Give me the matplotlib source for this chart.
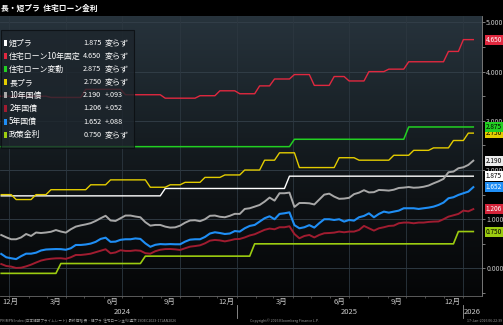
import numpy as np
import pandas as pd
import matplotlib
matplotlib.use('Agg')
import matplotlib.pyplot as plt
import matplotlib.transforms as mtransforms
from matplotlib.colors import LinearSegmentedColormap
from matplotlib.patches import Rectangle

plt.rcParams['font.family'] = ['Noto Sans CJK JP', 'DejaVu Sans']

# weekly-ish sampling grid for the JGB yields
grid = pd.date_range('2023-12-19', periods=96, freq='8D')

jgb10 = [0.68, 0.633, 0.593, 0.593, 0.63, 0.70, 0.66, 0.73, 0.72, 0.73,
         0.745, 0.78, 0.75, 0.728, 0.796, 0.85, 0.875, 0.895, 0.92, 0.965,
         1.02, 1.07, 0.975, 0.965, 1.02, 1.075, 1.075, 1.055, 1.04, 0.94,
         0.87, 0.884, 0.884, 0.85, 0.83, 0.835, 0.87, 0.93, 0.975, 0.98,
         0.96, 1.0, 1.07, 1.075, 1.05, 1.04, 1.07, 1.11, 1.108, 1.209,
         1.223, 1.256, 1.29, 1.358, 1.44, 1.378, 1.528, 1.528, 1.541, 1.25,
         1.33, 1.33, 1.324, 1.30, 1.40, 1.50, 1.52, 1.46, 1.415, 1.42,
         1.435, 1.51, 1.54, 1.59, 1.545, 1.55, 1.595, 1.59, 1.582, 1.60,
         1.635, 1.643, 1.655, 1.64, 1.645, 1.66, 1.685, 1.73, 1.77, 1.82,
         1.955, 1.968, 2.036, 2.056, 2.104, 2.19]
jgb5 = [0.295, 0.227, 0.207, 0.19, 0.25, 0.30, 0.30, 0.32, 0.365, 0.385,
        0.39, 0.394, 0.392, 0.38, 0.41, 0.477, 0.477, 0.487, 0.505, 0.54,
        0.60, 0.625, 0.54, 0.545, 0.582, 0.593, 0.593, 0.61, 0.60, 0.51,
        0.44, 0.48, 0.495, 0.49, 0.495, 0.491, 0.491, 0.545, 0.585, 0.593,
        0.593, 0.64, 0.71, 0.735, 0.72, 0.70, 0.71, 0.76, 0.749, 0.816,
        0.864, 0.884, 0.952, 1.02, 1.06, 1.0, 1.108, 1.121, 1.14, 0.88,
        0.816, 0.837, 0.88, 0.83, 0.92, 1.0, 1.0, 0.985, 1.0, 0.952,
        0.985, 0.972, 1.04, 1.067, 1.12, 1.04, 1.108, 1.155, 1.134, 1.155,
        1.175, 1.223, 1.223, 1.223, 1.209, 1.223, 1.236, 1.256, 1.29, 1.338,
        1.426, 1.447, 1.494, 1.528, 1.561, 1.652]
jgb2 = [0.09, 0.05, 0.037, 0.01, 0.015, 0.042, 0.077, 0.12, 0.16, 0.183,
        0.197, 0.205, 0.207, 0.195, 0.227, 0.274, 0.274, 0.285, 0.30, 0.33,
        0.36, 0.39, 0.308, 0.325, 0.37, 0.356, 0.356, 0.368, 0.36, 0.31,
        0.30, 0.35, 0.38, 0.393, 0.395, 0.388, 0.376, 0.41, 0.443, 0.455,
        0.47, 0.51, 0.565, 0.579, 0.57, 0.55, 0.57, 0.595, 0.60, 0.63,
        0.67, 0.695, 0.74, 0.785, 0.81, 0.796, 0.837, 0.837, 0.857, 0.70,
        0.613, 0.66, 0.68, 0.63, 0.681, 0.715, 0.72, 0.728, 0.749, 0.735,
        0.749, 0.749, 0.782, 0.864, 0.816, 0.769, 0.816, 0.837, 0.864, 0.87,
        0.918, 0.932, 0.932, 0.918, 0.932, 0.932, 0.945, 0.952, 0.955, 1.0,
        1.053, 1.08, 1.108, 1.175, 1.16, 1.206]

# step-type rates: change dates and new levels
short_dates = ['2023-12-01', '2024-09-05', '2025-03-20']
short_vals = [1.475, 1.625, 1.875]
fixed10_dates = ['2023-12-01', '2024-03-01', '2024-05-01', '2024-07-01', '2024-09-01',
                 '2024-11-01', '2024-12-01', '2025-01-01', '2025-02-01', '2025-03-01',
                 '2025-04-01', '2025-05-01', '2025-06-01', '2025-07-01', '2025-08-01',
                 '2025-09-01', '2025-10-01', '2025-12-01', '2026-01-01']
fixed10_vals = [3.50, 3.475, 3.64, 3.53, 3.46, 3.51, 3.61, 3.55, 3.71, 3.85,
                3.94, 3.72, 3.90, 3.81, 4.00, 4.05, 4.20, 4.41, 4.65]
var_dates = ['2023-12-01', '2025-04-01', '2025-10-01']
var_vals = [2.475, 2.625, 2.875]
long_dates = ['2023-12-01', '2024-01-10', '2024-02-09', '2024-03-08', '2024-05-10',
              '2024-06-10', '2024-08-09', '2024-09-10', '2024-10-10', '2024-11-08',
              '2024-12-10', '2025-01-10', '2025-02-10', '2025-03-10', '2025-04-10',
              '2025-06-10', '2025-07-10', '2025-09-10', '2025-10-10', '2025-11-10',
              '2025-12-10', '2026-01-09']
long_vals = [1.50, 1.40, 1.50, 1.60, 1.70, 1.80, 1.65, 1.70, 1.75, 1.85, 1.90,
             2.00, 2.20, 2.35, 2.05, 2.25, 2.20, 2.30, 2.40, 2.45, 2.60, 2.75]
policy_dates = ['2023-12-01', '2024-03-19', '2024-07-31', '2025-01-24', '2025-12-19']
policy_vals = [-0.1, 0.1, 0.25, 0.5, 0.75]

names = ['短プラ', '住宅ローン10年固定', '住宅ローン変動', '長プラ',
         '10年国債', '2年国債', '5年国債', '政策金利']
last_txt = ['1.875', '4.650', '2.875', '2.750', '2.190', '1.206', '1.652', '0.750']
chg_txt = ['変らず', '変らず', '変らず', '変らず', '+.093', '+.052', '+.088', '変らず']
colors = ['#ffffff', '#e0283f', '#22d022', '#e3cc00', '#a8a8a8', '#a01c30', '#1f8ef5', '#9ccc10']

month_dates = ['2024-03-15', '2024-06-15', '2024-09-15', '2024-12-15',
               '2025-03-15', '2025-06-15', '2025-09-15', '2025-12-15']
month_labels = ['3月', '6月', '9月', '12月', '3月', '6月', '9月', '12月']


def steps(dates, vals):
    s = pd.Series(vals, index=pd.to_datetime(dates))
    return s.reindex(s.index.union(grid)).ffill().reindex(grid)


series = [steps(short_dates, short_vals), steps(fixed10_dates, fixed10_vals),
          steps(var_dates, var_vals), steps(long_dates, long_vals),
          pd.Series(jgb10, index=grid), pd.Series(jgb2, index=grid),
          pd.Series(jgb5, index=grid), steps(policy_dates, policy_vals)]
widths = [1.0, 1.0, 1.1, 1.0, 1.4, 1.4, 1.5, 1.2]

fig = plt.figure(figsize=(5.03, 3.25), dpi=100, facecolor='black')
rect = [0, 29 / 325, 482 / 503, 280 / 325]

# gradient background
bg = fig.add_axes(rect, zorder=0)
cmap = LinearSegmentedColormap.from_list('bg', [(0, '#050607'), (0.35, '#0e1215'),
                                               (0.7, '#1b242a'), (1, '#27333c')])
bg.imshow(np.linspace(0, 1, 256).reshape(-1, 1), origin='lower', aspect='auto', cmap=cmap,
          extent=[0, 1, 0, 1])
bg.axis('off')

ax = fig.add_axes(rect, zorder=1)
ax.set_facecolor('none')
x0, x1 = pd.Timestamp('2023-12-17'), pd.Timestamp('2026-01-31')
ax.set_xlim(x0, x1)
ax.set_ylim(-0.56, 5.13)

for v in range(0, 6):
    ax.axhline(v, color='#34404a', lw=0.6, zorder=1)
for d in pd.date_range('2024-01-01', '2026-01-01', freq='QS'):
    ax.axvline(d, color='#2c3740', lw=0.6, zorder=1)

for s, c, w in zip(series, colors, widths):
    ax.plot(s.index, s.values, color=c, lw=w, zorder=3)

# axes styling
for sp in ['top', 'left']:
    ax.spines[sp].set_visible(False)
ax.spines['right'].set_color('#8a8a8a')
ax.spines['right'].set_linewidth(0.6)
ax.spines['bottom'].set_color('#6a6a6a')
ax.spines['bottom'].set_linewidth(0.6)
ax.yaxis.tick_right()
ax.set_yticks(range(0, 6))
ax.set_yticks([0.5, 1.5, 2.5, 3.5, 4.5, -0.5], minor=True)
ax.set_yticklabels(['%.3f' % v for v in range(0, 6)])
ax.tick_params(axis='y', which='both', colors='#aaaaaa', labelcolor='#c4c4c4',
               labelsize=5.0, length=2, width=0.5, pad=1)
ax.set_xticks(pd.date_range('2024-01-01', '2026-01-01', freq='MS'))
ax.set_xticklabels([])
ax.tick_params(axis='x', colors='#6a6a6a', length=1.5, width=0.5)

tx = mtransforms.blended_transform_factory(ax.transData, ax.transAxes)
for d, lab in zip(month_dates, month_labels):
    ax.text(pd.Timestamp(d), -0.022, lab, transform=tx, ha='center', va='center',
            fontsize=5.5, color='#c8c8c8')
ax.text(0.004, -0.022, '12月', transform=ax.transAxes, ha='left', va='center',
        fontsize=5.5, color='#c8c8c8')
for d, lab in [('2024-07-01', '2024'), ('2025-07-01', '2025'), ('2026-01-16', '2026')]:
    ax.text(pd.Timestamp(d), -0.058, lab, transform=tx, ha='center', va='center',
            fontsize=5.5, color='#c8c8c8')
for d in ['2025-01-01', '2026-01-01']:
    ax.plot([pd.Timestamp(d)] * 2, [-0.032, -0.079], transform=tx, color='#9a9a9a',
            lw=0.6, clip_on=False)

# last-value tags on the right
ty = mtransforms.blended_transform_factory(ax.transAxes, ax.transData)
tag_order = [3, 2, 1, 4, 0, 6, 5, 7]
tag_fc = {0: '#ffffff', 1: '#e0283f', 2: '#22d022', 3: '#e3cc00', 4: '#ececec',
          5: '#d42339', 6: '#1f8ef5', 7: '#9ccc10'}
tag_tc = {0: 'black', 1: 'white', 2: 'black', 3: 'black', 4: 'black',
          5: 'white', 6: 'white', 7: 'black'}
for i in tag_order:
    ax.text(1.008, series[i].values[-1], last_txt[i], transform=ty, ha='left', va='center',
            fontsize=4.7, color=tag_tc[i], zorder=10, clip_on=False,
            bbox=dict(boxstyle='square,pad=0.15', fc=tag_fc[i], ec='none'))

# legend box
ax.add_patch(Rectangle((0.002, (296 - 148) / 280), 0.276, (148 - 30) / 280,
                       transform=ax.transAxes, fc='#1d252c', ec='#0a0d10', lw=0.8,
                       alpha=0.8, zorder=5))
for k in range(8):
    yy = (296 - (43 + 13.1 * k)) / 280
    ax.add_patch(Rectangle((0.008, yy - 0.011), 0.006, 0.022, transform=ax.transAxes,
                           fc=colors[k], ec='none', zorder=6))
    ax.text(0.019, yy, names[k], transform=ax.transAxes, ha='left', va='center',
            fontsize=5.7, color='white', zorder=6)
    ax.text(0.210, yy, last_txt[k], transform=ax.transAxes, ha='right', va='center',
            fontsize=5.2, color='white', zorder=6)
    ax.text(0.218, yy, chg_txt[k], transform=ax.transAxes, ha='left', va='center',
            fontsize=5.8 if chg_txt[k] == '変らず' else 5.2, color='white', zorder=6)

fig.text(0.002, 1 - 8 / 325, '長・短プラ  住宅ローン金利', fontsize=5.6, weight='bold',
         color='white', ha='left', va='center')
fig.text(0.0, 1 - 321 / 325, 'PRIMPN Index (日本短期プライムレート)  最終価格 長・短プラ  住宅ローン金利 週次 19DEC2023-17JAN2026',
         fontsize=2.6, color='#9a9a9a', ha='left', va='center')
fig.text(285 / 503, 1 - 321 / 325, 'Copyright© 2026 Bloomberg Finance L.P.',
         fontsize=2.6, color='#9a9a9a', ha='center', va='center')
fig.text(0.998, 1 - 321 / 325, '17-Jan-2026 06:22:39', fontsize=2.6, color='#9a9a9a',
         ha='right', va='center')

fig.savefig('out.png', dpi=100, facecolor='black')
